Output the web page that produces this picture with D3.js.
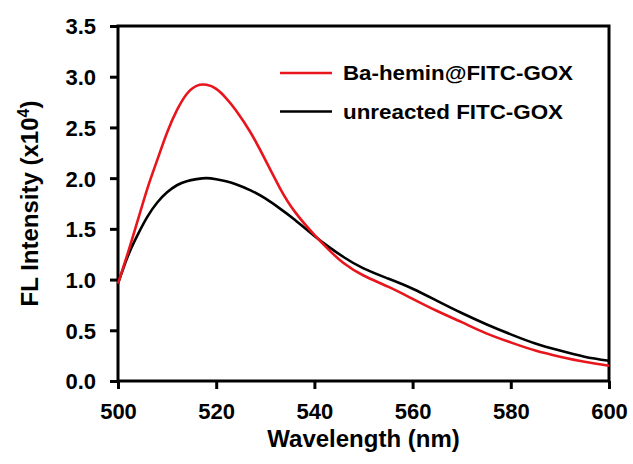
<!DOCTYPE html>
<html>
<head>
  <meta charset="utf-8">
  <title>FL Intensity</title>
  <style>
    body { margin: 0; background: #fff; }
    svg { display: block; font-family: "Liberation Sans", Arial, sans-serif; font-weight: bold; }
  </style>
  <script src="https://d3js.org/d3.v7.min.js"></script>
</head>
<body>
  <svg id="chart" width="633" height="464"></svg>
  <script>
    // wavelengths (nm)
    var wavelengths = [500, 502, 504, 506, 508, 510, 512, 514, 516, 518, 520, 522, 524, 527, 530, 533, 536,
                       540, 543, 546, 550, 555, 560, 565, 570, 575, 580, 585, 590, 595, 600];
    // FL intensity (x10^4)
    var baHemin = [0.96, 1.26, 1.58, 1.90, 2.18, 2.45, 2.67, 2.83, 2.91, 2.92, 2.88, 2.79, 2.67, 2.45, 2.18, 1.90, 1.67,
                   1.44, 1.29, 1.16, 1.04, 0.93, 0.81, 0.69, 0.58, 0.47, 0.38, 0.30, 0.24, 0.19, 0.15];
    var unreacted = [0.96, 1.23, 1.44, 1.62, 1.76, 1.86, 1.93, 1.97, 1.99, 2.00, 1.99, 1.97, 1.94, 1.88, 1.80, 1.70, 1.59,
                     1.43, 1.32, 1.22, 1.11, 1.01, 0.91, 0.79, 0.67, 0.56, 0.46, 0.37, 0.30, 0.24, 0.20];
    var xTicks = [500, 520, 540, 560, 580, 600];
    var yTicks = [0, 0.5, 1.0, 1.5, 2.0, 2.5, 3.0, 3.5];
    var seriesNames = ["Ba-hemin@FITC-GOX", "unreacted FITC-GOX"];
    var seriesColors = ["#e8161c", "#000000"];

    var svg = d3.select("#chart");
    var plotLeft = 118, plotRight = 609, plotTop = 26, plotBottom = 381;

    var x = d3.scaleLinear().domain([500, 600]).range([plotLeft, plotRight]);
    var y = d3.scaleLinear().domain([0, 3.5]).range([plotBottom, plotTop]);

    // frame
    svg.append("rect")
        .attr("x", plotLeft).attr("y", plotTop)
        .attr("width", plotRight - plotLeft).attr("height", plotBottom - plotTop)
        .attr("fill", "none").attr("stroke", "#000").attr("stroke-width", 3);

    var xAxis = svg.append("g")
        .attr("transform", "translate(0," + plotBottom + ")")
        .call(d3.axisBottom(x).tickValues(xTicks).tickSize(8).tickPadding(14).tickFormat(d3.format("d")));
    var yAxis = svg.append("g")
        .attr("transform", "translate(" + plotLeft + ",0)")
        .call(d3.axisLeft(y).tickValues(yTicks).tickSize(8).tickPadding(14).tickFormat(d3.format(".1f")));

    [xAxis, yAxis].forEach(function(a) {
      a.select(".domain").remove();
      a.selectAll("line").attr("stroke", "#000").attr("stroke-width", 3);
      a.selectAll("text")
          .attr("fill", "#000")
          .style("font-family", "'Liberation Sans', Arial, sans-serif")
          .style("font-weight", "bold")
          .style("font-size", "22px");
    });
    yAxis.selectAll("text").attr("dy", "0.36em");

    var line = d3.line()
        .x(function(d) { return x(d[0]); })
        .y(function(d) { return y(d[1]); })
        .curve(d3.curveNatural);

    var series = [unreacted, baHemin];
    var colors = [seriesColors[1], seriesColors[0]];
    series.forEach(function(vals, i) {
      svg.append("path")
          .datum(wavelengths.map(function(w, j) { return [w, vals[j]]; }))
          .attr("fill", "none")
          .attr("stroke", colors[i])
          .attr("stroke-width", 2.6)
          .attr("d", line);
    });

    // legend
    var legend = svg.append("g");
    seriesNames.forEach(function(name, i) {
      var ly = 73 + i * 38.5;
      legend.append("line")
          .attr("x1", 280).attr("x2", 332)
          .attr("y1", ly).attr("y2", ly)
          .attr("stroke", seriesColors[i]).attr("stroke-width", 2.5);
      legend.append("text")
          .attr("x", 343).attr("y", ly + 7)
          .attr("font-size", 21)
          .attr("textLength", i === 0 ? 230 : 220)
          .attr("lengthAdjust", "spacingAndGlyphs")
          .text(name);
    });

    // axis titles
    svg.append("text")
        .attr("x", (plotLeft + plotRight) / 2).attr("y", 447)
        .attr("text-anchor", "middle")
        .attr("font-size", 24)
        .text("Wavelength (nm)");

    var yt = svg.append("text")
        .attr("transform", "translate(38," + ((plotTop + plotBottom) / 2) + ") rotate(-90)")
        .attr("text-anchor", "middle")
        .attr("font-size", 24);
    yt.append("tspan").text("FL Intensity (x10");
    yt.append("tspan").attr("font-size", 16).attr("dy", -9).text("4");
    yt.append("tspan").attr("dy", 9).text(")");
  </script>
</body>
</html>
